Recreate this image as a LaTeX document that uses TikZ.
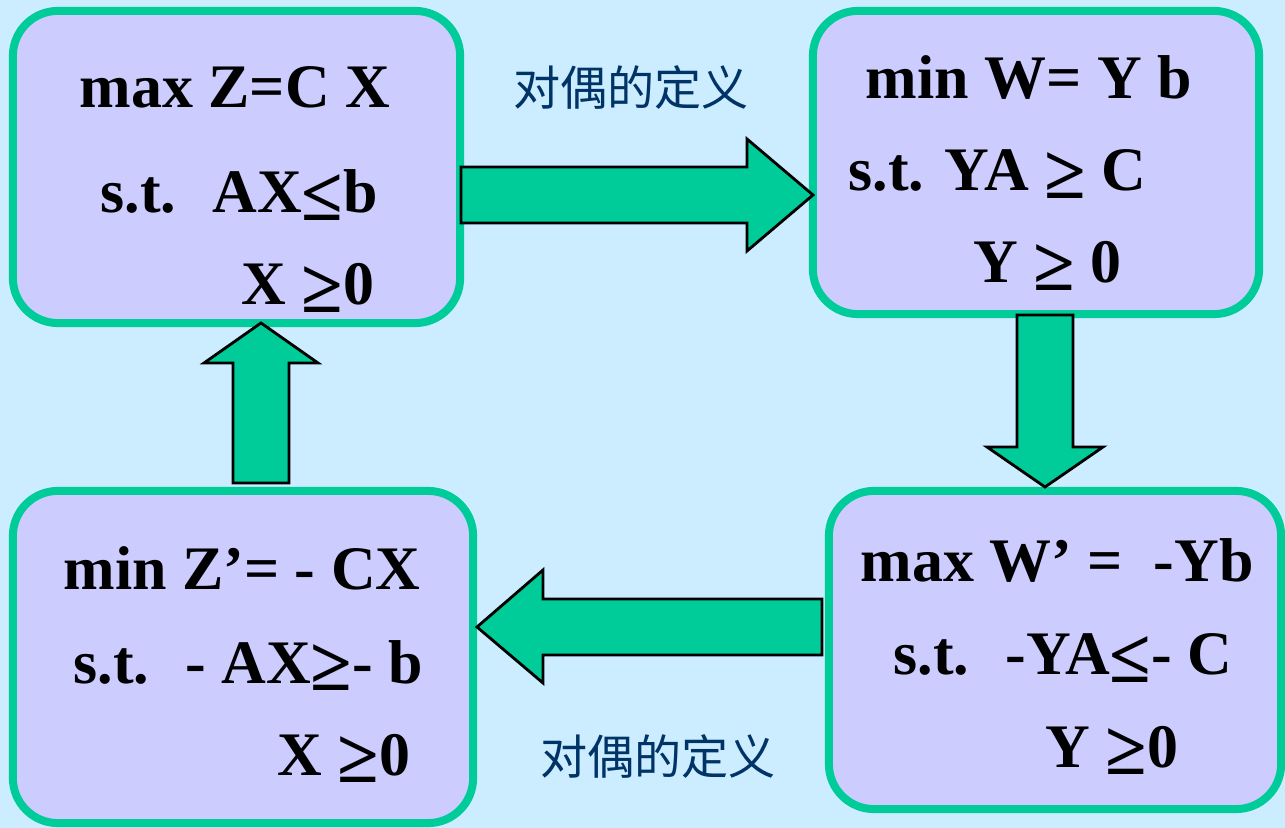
\documentclass[tikz,border=0pt]{standalone}
\usepackage{fontspec}
\setmainfont{Liberation Serif}
\newfontfamily\cjk{Noto Sans CJK SC}
\usepackage{xcolor}
\usetikzlibrary{positioning}
\definecolor{skyback}{RGB}{204,236,255}
\definecolor{lavbox}{RGB}{204,204,255}
\definecolor{seagreen}{RGB}{0,204,153}
\definecolor{navytext}{RGB}{0,51,102}

% larger relation signs, as in the slide
\newcommand{\lple}{\raisebox{-0.12em}{\fontsize{21.5}{22}\selectfont ≤}}
\newcommand{\lpge}{\raisebox{-0.12em}{\fontsize{21.5}{22}\selectfont ≥}}

\tikzset{
  lpbox/.style={draw=seagreen, line width=0.08cm, fill=lavbox, rounded corners=0.45cm, inner sep=0pt},
  lpline/.style={anchor=base west, inner sep=0pt, font=\fontsize{17.6}{20}\selectfont\bfseries},
  fatarrow/.style={draw=black, line width=0.8pt, fill=seagreen, line join=miter},
  duallabel/.style={text=navytext, inner sep=0pt, font=\cjk\fontsize{13.4}{16}\selectfont}
}

\begin{document}
\begin{tikzpicture}[x=0.01cm, y=-0.01cm]
  \fill[skyback] (0,0) rectangle (1285,828);
  \useasboundingbox (0,0) rectangle (1285,828);

  % the four problems
  \node[lpbox, minimum width=4.47cm, minimum height=3.12cm] (primal) at (236.5,167) {};
  \node[lpbox, minimum width=4.46cm, minimum height=3.03cm] (dual) at (1036,162.5) {};
  \node[lpbox, minimum width=4.52cm, minimum height=3.18cm] (dualneg) at (1055,650) {};
  \node[lpbox, minimum width=4.60cm, minimum height=3.32cm] (primalneg) at (243,657) {};

  \node[lpline] (primal1) at (79,108) {max Z=C X};
  \node[lpline] (primal2) at (100,213) {s.t.~ AX\lple b};
  \node[lpline] (primal3) at (241,305) {X \lpge0};

  \node[lpline] (dual1) at (865,99) {min W= Y b};
  \node[lpline] (dual2) at (848,191) {s.t. YA \lpge{} C};
  \node[lpline] (dual3) at (973,283) {Y \lpge{} 0};

  \node[lpline] (dualneg1) at (860,582) {max W’ =~ -Yb};
  \node[lpline] (dualneg2) at (893,675) {s.t.~ -YA\lple- C};
  \node[lpline] (dualneg3) at (1045,767) {Y \lpge0};

  \node[lpline] (primalneg1) at (63,590) {min Z’= - CX};
  \node[lpline] (primalneg2) at (73,683) {s.t.~ - AX\lpge- b};
  \node[lpline] (primalneg3) at (277,775) {X \lpge0};

  % block arrows round the cycle
  \draw[fatarrow] (461,167) -- (747,167) -- (747,139) -- (813,195) -- (747,251) -- (747,223) -- (461,223) -- cycle;
  \draw[fatarrow] (1017,315) -- (1017,447) -- (987,447) -- (1045,487) -- (1103,447) -- (1073,447) -- (1073,315) -- cycle;
  \draw[fatarrow] (822,599) -- (543,599) -- (543,570) -- (477,627) -- (543,683) -- (543,655) -- (822,655) -- cycle;
  \draw[fatarrow] (233,483) -- (233,363) -- (204,363) -- (261,323) -- (318,363) -- (289,363) -- (289,483) -- cycle;

  \node[duallabel] (deftop) at (631,88) {对偶的定义};
  \node[duallabel] (defbottom) at (658,756) {对偶的定义};
\end{tikzpicture}
\end{document}
